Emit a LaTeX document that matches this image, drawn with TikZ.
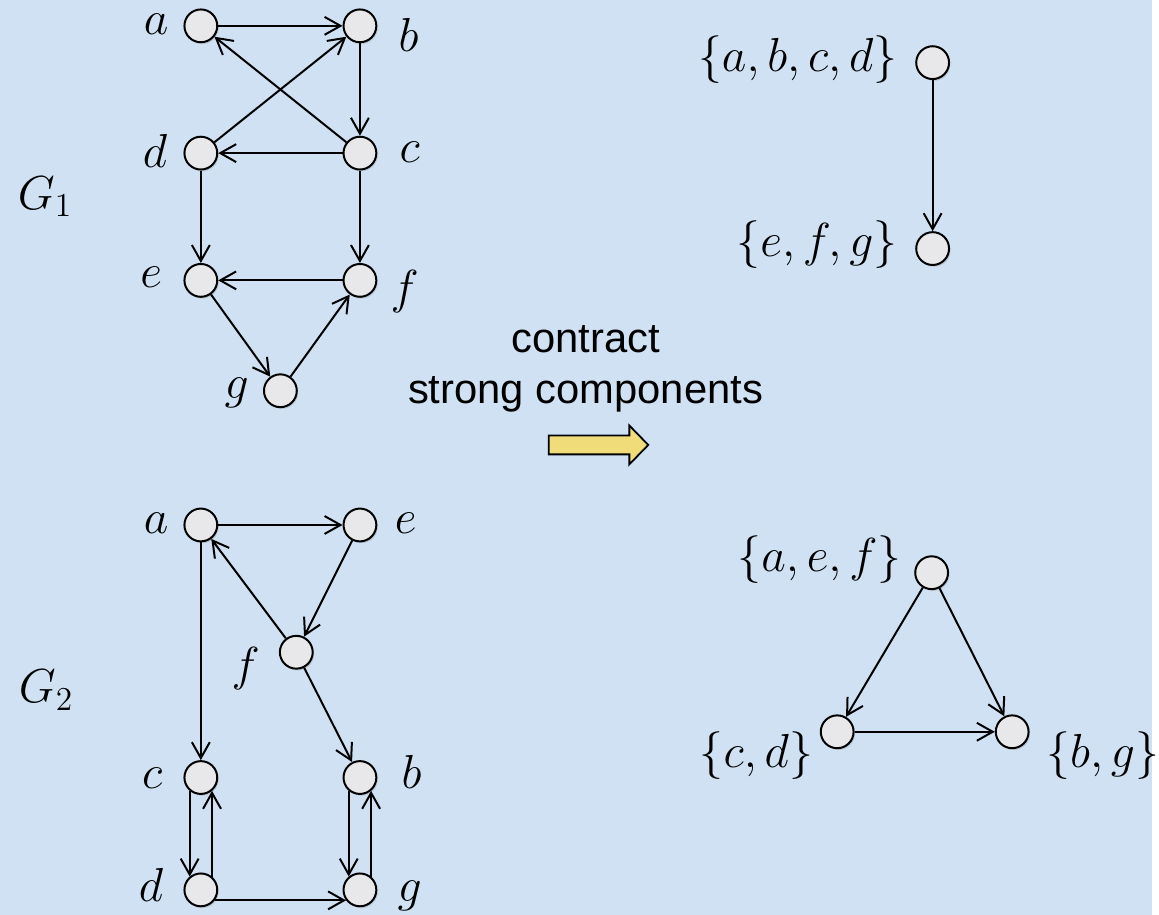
\RequirePackage{fix-cm}
\documentclass[tikz,border=0pt]{standalone}
\usepackage{fontspec}
\setsansfont{Liberation Sans}
\usetikzlibrary{arrows.meta,shadows}
\definecolor{bg}{RGB}{207,225,243}
\definecolor{nodefill}{RGB}{232,232,234}
\definecolor{arrowyellow}{RGB}{240,221,122}
\begin{document}
\begin{tikzpicture}[x=0.5pt,y=-0.5pt,
  vtx/.style={circle, draw=black, line width=1pt, fill=nodefill, minimum size=16.5pt, inner sep=0pt,
    drop shadow={shadow xshift=0.7pt,shadow yshift=-0.9pt,opacity=0.3}},
  lbl/.style={anchor=base, inner sep=0pt, font=\fontsize{24}{29}\selectfont},
  txt/.style={anchor=base, inner sep=0pt, font=\sffamily\fontsize{21}{25}\selectfont},
  edge/.style={line width=1pt, -{Straight Barb[length=8pt,width=9pt]}}]
\fill[bg] (0,0) rectangle (1159,920);
% ---------- G1 ----------
\node[vtx] (a1) at (202,26) {};
\node[vtx] (b1) at (362,26) {};
\node[vtx] (d1) at (202,154) {};
\node[vtx] (c1) at (362,154) {};
\node[vtx] (e1) at (202,282) {};
\node[vtx] (f1) at (362,282) {};
\node[vtx] (g1) at (282,393) {};
\node[lbl] (la1) at (157,35) {$a$};
\node[lbl] (lb1) at (411,52) {$b$};
\node[lbl] (lc1) at (412,163) {$c$};
\node[lbl] (ld1) at (156,168) {$d$};
\node[lbl] (le1) at (152,289) {$e$};
\node[lbl] (lf1) at (407,305) {$f$};
\node[lbl] (lg1) at (238,401) {$g$};
\node[lbl,anchor=base east] (G1) at (73,211) {$G_1$};
\draw[edge] (a1) -- (b1);
\draw[edge] (c1) -- (a1);
\draw[edge] (d1) -- (b1);
\draw[edge] (b1) -- (c1);
\draw[edge] (c1) -- (d1);
\draw[edge] (d1) -- (e1);
\draw[edge] (c1) -- (f1);
\draw[edge] (f1) -- (e1);
\draw[edge] (e1) -- (g1);
\draw[edge] (g1) -- (f1);
% ---------- G2 ----------
\node[vtx] (a2) at (202,528) {};
\node[vtx] (e2) at (362,528) {};
\node[vtx] (f2) at (298,656) {};
\node[vtx] (c2) at (202,782) {};
\node[vtx] (b2) at (362,782) {};
\node[vtx] (d2) at (202,895) {};
\node[vtx] (g2) at (362,895) {};
\node[lbl] (la2) at (157,537) {$a$};
\node[lbl] (le2) at (408,537) {$e$};
\node[lbl] (lf2) at (247,684) {$f$};
\node[lbl] (lc2) at (153,793) {$c$};
\node[lbl] (lb2) at (414,793) {$b$};
\node[lbl] (ld2) at (152,907) {$d$};
\node[lbl] (lg2) at (412,907) {$g$};
\node[lbl,anchor=base east] (G2) at (74,707) {$G_2$};
\draw[edge] (a2) -- (e2);
\draw[edge] (e2) -- (f2);
\draw[edge] (f2) -- (a2);
\draw[edge] (f2) -- (b2);
\draw[edge] (a2) -- (c2);
\draw[edge] (c2.-130) -- (d2.130);
\draw[edge] (d2.50) -- (c2.-50);
\draw[edge] (b2.-130) -- (g2.130);
\draw[edge] (g2.50) -- (b2.-50);
\draw[edge] (d2.-37) -- (g2.-143);
% ---------- middle ----------
\node[txt] (t1) at (589,355) {contract};
\node[txt] (t2) at (589,406) {strong components};
\draw[line width=0.9pt, fill=arrowyellow]
  (552,438) -- (633,438) -- (633,428) -- (652,447.5) -- (633,467) -- (633,457) -- (552,457) -- cycle;
% ---------- right top ----------
\node[vtx] (R1) at (938,63) {};
\node[vtx] (R2) at (938,250) {};
\node[lbl,anchor=base east] (lR1) at (903,72) {$\{a,b,c,d\}$};
\node[lbl,anchor=base east] (lR2) at (903,258) {$\{e,f,g\}$};
\draw[edge] (R1) -- (R2);
% ---------- right bottom ----------
\node[vtx] (S1) at (937,576) {};
\node[vtx] (S2) at (842,736) {};
\node[vtx] (S3) at (1018,736) {};
\node[lbl,anchor=base east] (lS1) at (907,575) {$\{a,e,f\}$};
\node[lbl,anchor=base east] (lS2) at (818,772) {$\{c,d\}$};
\node[lbl,anchor=base west] (lS3) at (1052,772) {$\{b,g\}$};
\draw[edge] (S1) -- (S2);
\draw[edge] (S1) -- (S3);
\draw[edge] (S2) -- (S3);
\end{tikzpicture}
\end{document}
